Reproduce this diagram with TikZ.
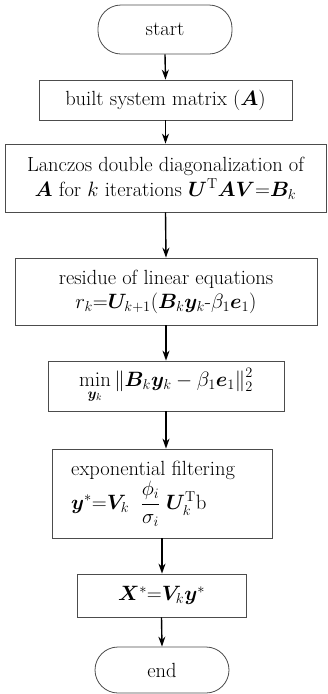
\documentclass[tikz,border=0pt]{standalone}
\usepackage{amsmath}
\usepackage{bm}
\usetikzlibrary{arrows.meta,calc}
\begin{document}
\begin{tikzpicture}[x=1pt,y=1pt,
  every node/.style={inner sep=0pt,font=\fontsize{20.5}{27}\selectfont},
  procbox/.style={draw=black!70,line width=0.8pt,rectangle,align=center},
  termbox/.style={draw=black!70,line width=0.8pt,rectangle,rounded corners=23pt,minimum width=134pt},
  flow/.style={line width=1.4pt,-{Stealth[length=10pt,width=7pt]}}]
\useasboundingbox (0,0) rectangle (327,-694);
\node[termbox,minimum height=49pt] (start) at (165,-29.5) {start};
\node[procbox,minimum width=253pt,minimum height=40pt] (b2) at (165.5,-100) {built system matrix ($\bm{A}$)};
\node[procbox,minimum width=321pt,minimum height=68pt] (b3) at (165.5,-178)
  {Lanczos double diagonalization of\\[-2pt] $\bm{A}$ for $k$ iterations $\bm{U}^{\mathrm{T}}\bm{A}\bm{V}{=}\bm{B}_k$};
\node[procbox,minimum width=302pt,minimum height=67pt] (b4) at (166,-291.5)
  {residue of linear equations\\[-3pt] $r_k{=}\bm{U}_{k+1}(\bm{B}_k\bm{y}_k\text{-}\beta_1\bm{e}_1)$};
\node[procbox,minimum width=236pt,minimum height=50pt] (b5) at (166,-386)
  {$\displaystyle\min_{\bm{y}_k}\|\bm{B}_k\bm{y}_k-\beta_1\bm{e}_1\|_2^2$};
\node[procbox,minimum width=220pt,minimum height=89pt] (b6) at (162,-493.5) {};
\node[anchor=west,align=left] (b6t) at (71,-494)
  {exponential filtering\\[0pt] $\bm{y}^*{=}\bm{V}_k\;\;\dfrac{\phi_i}{\sigma_i}\;\bm{U}_k^{\mathrm{T}}\mathrm{b}$};
\node[procbox,minimum width=169pt,minimum height=43pt] (b7) at (161.5,-595.5) {$\bm{X}^*{=}\bm{V}_k\bm{y}^*$};
\node[termbox,minimum height=46pt] (end) at (162,-670) {end};
\draw[flow] (start.south) -- (b2.north);
\draw[flow] (b2.south) -- (b3.north);
\draw[flow] (b3.south) -- (b4.north);
\draw[flow] (b4.south) -- (b5.north);
\draw[flow] (b5.south) -- (b5.south |- b6.north);
\draw[flow] (b6.south) -- (b6.south |- b7.north);
\draw[flow] (b7.south) -- (end.north);
\end{tikzpicture}
\end{document}
